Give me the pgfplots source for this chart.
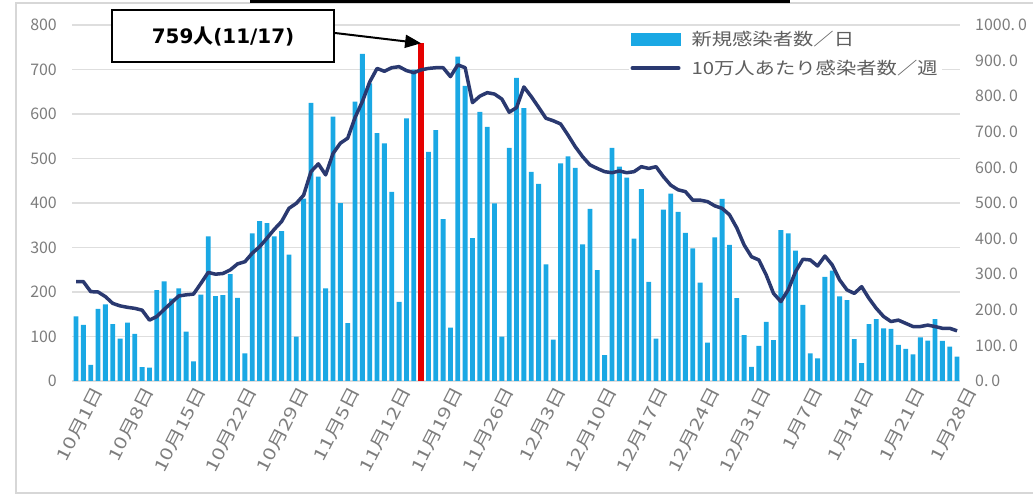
\documentclass[border=0pt]{standalone}
\usepackage{pgfplots}
\usepackage{pgfplotstable}
\pgfplotsset{compat=1.18}
\usetikzlibrary{arrows.meta}
\usepackage{fontspec}
\setmainfont{Noto Sans CJK JP}
\newfontfamily\jpw{Noto Sans CJK JP}[FakeStretch=1.3]
\newfontfamily\jpl{Noto Sans CJK JP}[FakeStretch=1.2]
\newfontfamily\jpf{Noto Sans CJK JP}
\newfontfamily\dvs{DejaVu Sans}
\definecolor{barblue}{RGB}{26,168,228}
\definecolor{navy}{RGB}{42,57,112}
\definecolor{tickgray}{RGB}{125,125,125}
\definecolor{leggray}{RGB}{95,95,95}
\definecolor{gridgray}{RGB}{222,222,222}
\definecolor{framegray}{RGB}{215,215,215}

\pgfplotstableread{
d v
0 145
1 126
2 36
3 162
4 172
5 128
6 95
7 131
8 106
9 31
10 30
11 204
12 224
13 185
14 208
15 111
16 44
17 194
18 325
19 191
20 193
21 240
22 187
23 62
24 332
25 359
26 355
27 325
28 337
29 284
30 100
31 410
32 625
33 459
34 208
35 594
36 400
37 130
38 628
39 735
40 669
41 557
42 534
43 425
44 178
45 590
46 700
47 759
48 515
49 564
50 364
51 120
52 729
53 663
54 321
55 605
56 571
57 399
58 100
59 524
60 681
61 613
62 470
63 443
64 262
65 93
66 489
67 505
68 479
69 307
70 387
71 249
72 58
73 524
74 482
75 457
76 320
77 431
78 223
79 95
80 385
81 421
82 380
83 333
84 298
85 221
86 86
87 323
88 409
89 306
90 186
91 103
92 32
93 79
94 133
95 92
96 339
97 332
98 293
99 171
100 62
101 51
102 234
103 248
104 190
105 182
106 94
107 40
108 128
109 139
110 118
111 117
112 81
113 72
114 60
115 98
116 91
117 139
118 90
119 77
120 55
}\bars

\pgfplotstableread{
d w
0 279
1 279
2 251
3 250
4 237
5 218
6 211
7 207
8 204
9 199
10 171
11 181
12 201
13 220
14 239
15 242
16 244
17 274
18 305
19 300
20 302
21 312
22 329
23 335
24 359
25 377
26 401
27 426
28 448
29 485
30 499
31 522
32 588
33 610
34 579
35 639
36 668
37 682
38 740
39 785
40 840
41 878
42 870
43 880
44 883
45 872
46 866
47 874
48 878
49 880
50 880
51 855
52 888
53 880
54 782
55 800
56 810
57 806
58 792
59 755
60 768
61 826
62 799
63 769
64 738
65 731
66 722
67 691
68 658
69 630
70 607
71 597
72 588
73 585
74 590
75 585
76 588
77 602
78 597
79 602
80 574
81 550
82 537
83 532
84 508
85 508
86 504
87 492
88 485
89 467
90 430
91 382
92 349
93 340
94 298
95 246
96 223
97 256
98 307
99 342
100 340
101 323
102 351
103 326
104 284
105 256
106 246
107 265
108 232
109 204
110 181
111 167
112 171
113 162
114 153
115 153
116 157
117 153
118 148
119 148
120 141
}\weekly

\begin{document}
\begin{tikzpicture}
\useasboundingbox (0bp,0bp) rectangle (1033bp,497bp);
\fill[white] (0bp,0bp) rectangle (1033bp,497bp);
\draw[framegray, line width=1.5bp] (1033bp,494bp) -- (16bp,494bp) -- (16bp,4bp) -- (1033bp,4bp);
\draw[black, line width=3bp] (250bp,495.5bp) -- (790bp,495.5bp);

\begin{axis}[
  at={(72bp,116bp)}, anchor=south west,
  scale only axis, width=888bp, height=356bp,
  xmin=-0.55, xmax=120.4, ymin=0, ymax=800,
  axis y line*=left, axis x line*=bottom,
  axis line style={draw=none},
  major tick length=0pt,
  ytick={0,100,...,800},
  ymajorgrids, grid style={gridgray, line width=1.2bp},
  xtick={0,7,...,119},
  xticklabels={10月1日,10月8日,10月15日,10月22日,10月29日,11月5日,11月12日,11月19日,11月26日,12月3日,12月10日,12月17日,12月24日,12月31日,1月7日,1月14日,1月21日,1月28日},
  /pgf/number format/assume math mode=true,
  tick label style={text=tickgray},
  yticklabel style={font=\jpf\fontsize{16}{16}\selectfont, inner sep=0pt, anchor=east, xshift=-15bp},
  xticklabel style={font=\jpw\fontsize{17}{17}\selectfont, rotate=63, anchor=east, inner sep=0pt, yshift=-23bp, xshift=4bp},
  legend style={at={(0.6265,0.991)}, anchor=north west, draw=none, fill=white,
    font=\jpl\fontsize{17}{17}\selectfont, text=leggray, inner xsep=2bp, inner ysep=1bp,
    row sep=9bp, column sep=9bp},
  legend cell align=left,
]
\addplot[ybar, bar width=0.66, fill=barblue, draw=none,
  legend image code/.code={\fill[barblue] (0bp,-6.5bp) rectangle (50bp,6.5bp);}]
  table[x=d, y=v] {\bars};
\addlegendentry{新規感染者数／日}
\addlegendimage{legend image code/.code={\draw[navy, line width=4bp, line cap=round] (2bp,0bp) -- (48bp,0bp);}}
\addlegendentry{10万人あたり感染者数／週}
\addplot[ybar, bar width=0.9, fill=red!90!black, draw=none, forget plot]
  coordinates {(47,759)};
\coordinate (peak) at (axis cs:47,759);
\end{axis}

\begin{axis}[
  at={(72bp,116bp)}, anchor=south west,
  scale only axis, width=888bp, height=356bp,
  xmin=-0.55, xmax=120.4, ymin=0, ymax=1000,
  axis y line*=right, axis x line=none,
  axis line style={draw=none},
  major tick length=0pt,
  ytick={0,100,...,1000},
  /pgf/number format/assume math mode=true,
  yticklabel={\pgfmathprintnumber[fixed,precision=0,1000 sep={},assume math mode=true]{\tick}.\hspace{3bp}0},
  yticklabel style={font=\jpf\fontsize{16}{16}\selectfont, text=tickgray, inner sep=0pt, anchor=west, xshift=15bp},
]
\addplot[navy, line width=3.5bp, line join=round, mark=none] table[x=d, y=w] {\weekly};
\end{axis}

\node[draw=black, line width=1.5bp, fill=white, minimum width=222bp, minimum height=52bp, inner sep=0pt]
  at (223bp,461bp) {\dvs\fontsize{20}{20}\selectfont\bfseries 759{\jpf\bfseries 人}(11/17)};
\draw[black, line width=2bp, -{Triangle[length=16bp,width=13bp]}] (335bp,464bp) -- (peak);
\end{tikzpicture}
\end{document}
